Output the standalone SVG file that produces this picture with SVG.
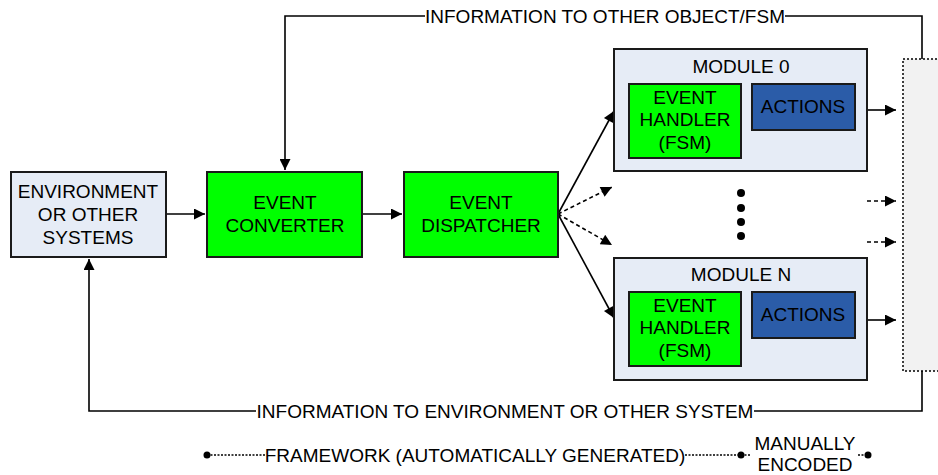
<svg xmlns="http://www.w3.org/2000/svg" width="938" height="475" viewBox="0 0 938 475">
<defs>
<marker id="ah" viewBox="0 0 10 10" refX="10" refY="5" markerWidth="16" markerHeight="11" markerUnits="userSpaceOnUse" orient="auto">
<path d="M0,0 L10,5 L0,10 z" fill="#000"/>
</marker>
<style>
text{font-family:"Liberation Sans",Arial,sans-serif;font-size:19px;fill:#000;text-anchor:middle}
.box{stroke:#1a1a1a;stroke-width:2}
.lb{fill:#E6ECF6}
.gr{fill:#00FF00}
.bl{fill:#2B5CA8}
.ln{fill:none;stroke:#000;stroke-width:1.6}
.dl{fill:none;stroke:#000;stroke-width:1.6;stroke-dasharray:4 3}
.leg{fill:none;stroke:#000;stroke-width:1.4;stroke-dasharray:2 1.5}
</style>
</defs>
<rect width="938" height="475" fill="#fff"/>
<g id="connectors">
<polyline class="ln" points="922,59 922,16 285,16 285,170" marker-end="url(#ah)"/>
<polyline class="ln" points="922,371 922,411 89,411 89,259" marker-end="url(#ah)"/>
<line class="ln" x1="166" y1="214" x2="205" y2="214" marker-end="url(#ah)"/>
<line class="ln" x1="362" y1="214" x2="402" y2="214" marker-end="url(#ah)"/>
<line class="ln" x1="558" y1="214" x2="614" y2="111" marker-end="url(#ah)"/>
<line class="ln" x1="558" y1="214" x2="614" y2="318" marker-end="url(#ah)"/>
<line class="dl" x1="558" y1="214" x2="612" y2="187" marker-end="url(#ah)"/>
<line class="dl" x1="558" y1="214" x2="612" y2="245" marker-end="url(#ah)"/>
<line class="ln" x1="867" y1="110" x2="896" y2="110" marker-end="url(#ah)"/>
<line class="ln" x1="867" y1="320" x2="896" y2="320" marker-end="url(#ah)"/>
<line class="dl" x1="867" y1="201" x2="896" y2="201" marker-end="url(#ah)"/>
<line class="dl" x1="867" y1="242" x2="896" y2="242" marker-end="url(#ah)"/>
<rect x="425" y="6" width="360" height="20" fill="#fff"/>
<text x="605" y="23">INFORMATION TO OTHER OBJECT/FSM</text>
<rect x="256" y="401" width="498" height="20" fill="#fff"/>
<text x="505" y="418">INFORMATION TO ENVIRONMENT OR OTHER SYSTEM</text>
</g>
<g id="env">
<rect class="box lb" x="11" y="172" width="155" height="85"/>
<text x="88" y="198">ENVIRONMENT</text>
<text x="88" y="221">OR OTHER</text>
<text x="88" y="244">SYSTEMS</text>
</g>
<g id="converter">
<rect class="box gr" x="207" y="172" width="155" height="85"/>
<text x="285" y="209">EVENT</text>
<text x="285" y="232">CONVERTER</text>
</g>
<g id="dispatcher">
<rect class="box gr" x="404" y="172" width="154" height="85"/>
<text x="481" y="209">EVENT</text>
<text x="481" y="232">DISPATCHER</text>
</g>
<g id="module0">
<rect class="box lb" x="614" y="49" width="253" height="122"/>
<text x="741" y="73">MODULE 0</text>
<rect class="box gr" x="629" y="84" width="112" height="74"/>
<text x="685" y="104">EVENT</text>
<text x="685" y="126">HANDLER</text>
<text x="685" y="149">(FSM)</text>
<rect class="box bl" x="752" y="84" width="103" height="46"/>
<text x="803" y="113">ACTIONS</text>
</g>
<g id="dots">
<circle cx="741" cy="193" r="4"/>
<circle cx="741" cy="208" r="4"/>
<circle cx="741" cy="222" r="4"/>
<circle cx="741" cy="236" r="4"/>
</g>
<g id="moduleN">
<rect class="box lb" x="614" y="258" width="253" height="122"/>
<text x="741" y="281">MODULE N</text>
<rect class="box gr" x="629" y="292" width="112" height="74"/>
<text x="685" y="312">EVENT</text>
<text x="685" y="334">HANDLER</text>
<text x="685" y="357">(FSM)</text>
<rect class="box bl" x="752" y="292" width="103" height="46"/>
<text x="803" y="321">ACTIONS</text>
</g>
<g id="sink">
<rect x="903" y="59" width="40" height="312" fill="#F2F2F2" stroke="#000" stroke-width="1.5" stroke-dasharray="2 2"/>
</g>
<g id="legend">
<line class="leg" x1="207" y1="455" x2="265" y2="455"/>
<line class="leg" x1="685" y1="455" x2="741" y2="455"/>
<line class="leg" x1="741" y1="455" x2="750" y2="455"/>
<line class="leg" x1="858" y1="455" x2="868" y2="455"/>
<circle cx="207" cy="455" r="3.5"/>
<circle cx="741" cy="455" r="3.5"/>
<circle cx="868" cy="455" r="3.5"/>
<text x="475" y="462">FRAMEWORK (AUTOMATICALLY GENERATED)</text>
<text x="805" y="450">MANUALLY</text>
<text x="805" y="471">ENCODED</text>
</g>
</svg>
